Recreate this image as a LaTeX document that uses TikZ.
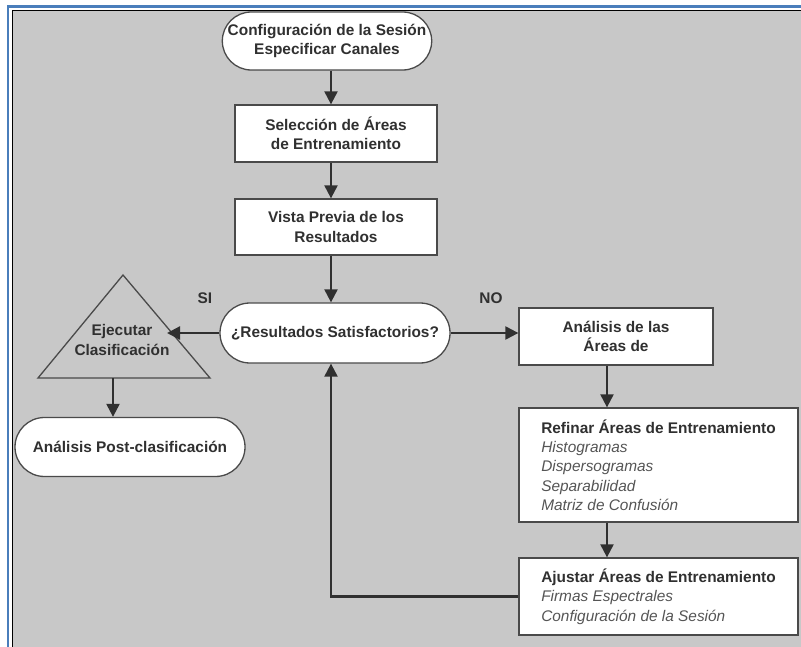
\documentclass[tikz,border=0pt]{standalone}
\usepackage{fontspec}
\setmainfont{Liberation Sans}
\usetikzlibrary{shapes.misc, arrows.meta}
\definecolor{fondo}{HTML}{C8C8C8}
\definecolor{marco}{HTML}{4A7EBB}
\definecolor{texto}{HTML}{303030}
\definecolor{borde}{HTML}{4A4A4A}
\definecolor{textogris}{HTML}{555555}
\newcommand{\detalle}[1]{{\mdseries\itshape\color{textogris}#1}}
\begin{document}
\begin{tikzpicture}[x=1pt, y=-1pt,
        caja/.style={draw=borde, line width=1.3pt, fill=white, text=texto,
            font=\fontsize{15.4}{19.3}\selectfont\bfseries, align=center, inner sep=0pt},
        ovalo/.style={caja, rounded rectangle},
        flecha/.style={draw=texto, line width=2.2pt, -{Triangle[length=13pt, width=13pt]}},
        etiqueta/.style={text=texto, font=\fontsize{15.4}{19.3}\selectfont\bfseries}]
    \useasboundingbox (0, 0) rectangle (801, 647);
    % fondo y marco
    \fill [white] (0, 0) rectangle (801, 647);
    \fill [fondo] (12, 10) rectangle (801, 647);
    \draw [marco, line width=2.5pt] (8, 647) -- (8, 6.5) -- (801, 6.5);
    \draw [black, line width=1.2pt] (12.5, 647) -- (12.5, 10.5) -- (801, 10.5);
    % ejes de las columnas
    \coordinate (ejeA) at (331, 0);
    \coordinate (ejeB) at (607, 0);
    % columna central
    \node [ovalo, minimum width=208pt, minimum height=58pt] (cfg) at (327, 41)
        {Configuración de la Sesión\\Especificar Canales};
    \node [caja, minimum width=202pt, minimum height=57pt] (sel) at (336, 133.5)
        {Selección de Áreas\\de Entrenamiento};
    \node [caja, minimum width=202pt, minimum height=56pt] (vista) at (336, 227)
        {Vista Previa de los\\Resultados};
    \node [ovalo, minimum width=230pt, minimum height=60pt] (res) at (335, 333)
        {¿Resultados Satisfactorios?};
    % rama SI
    \coordinate (triA) at (123, 275);
    \coordinate (triB) at (38, 378);
    \coordinate (triC) at (210, 378);
    \draw [borde, line width=1.3pt] (triA) -- (triB) -- (triC) -- cycle;
    \node [etiqueta, align=center] (ejec) at (122, 340) {Ejecutar\\Clasificación};
    \coordinate (ejecin) at (167, 333);
    \coordinate (ejecbase) at (113, 378);
    \node [ovalo, minimum width=230pt, minimum height=59pt] (post) at (130, 447)
        {Análisis Post-clasificación};
    % rama NO
    \node [caja, minimum width=194pt, minimum height=57pt] (ana) at (616, 336.5)
        {Análisis de las\\Áreas de};
    \node [caja, align=left, minimum width=279pt, minimum height=114pt] (ref) at (658.5, 465)
        {Refinar Áreas de Entrenamiento\\\detalle{Histogramas}\\\detalle{Dispersogramas}\\
         \detalle{Separabilidad}\\\detalle{Matriz de Confusión}};
    \node [caja, align=left, minimum width=279pt, minimum height=77pt] (aju) at (658.5, 596.5)
        {Ajustar Áreas de Entrenamiento\\\detalle{Firmas Espectrales}\\
         \detalle{Configuración de la Sesión}};
    \node [etiqueta] (si) at (205, 298) {SI};
    \node [etiqueta] (no) at (491, 298) {NO};
    % conectores
    \draw [flecha] (cfg.south -| ejeA) -- (sel.north -| ejeA);
    \draw [flecha] (sel.south -| ejeA) -- (vista.north -| ejeA);
    \draw [flecha] (vista.south -| ejeA) -- (res.north -| ejeA);
    \draw [flecha] (res.west) -- (ejecin);
    \draw [flecha] (ejecbase) -- (post.north -| ejecbase);
    \draw [flecha] (res.east) -- (ana.west |- res.east);
    \draw [flecha] (ana.south -| ejeB) -- (ref.north -| ejeB);
    \draw [flecha] (ref.south -| ejeB) -- (aju.north -| ejeB);
    \draw [flecha] (aju.west) -| (res.south -| ejeA);
\end{tikzpicture}
\end{document}
